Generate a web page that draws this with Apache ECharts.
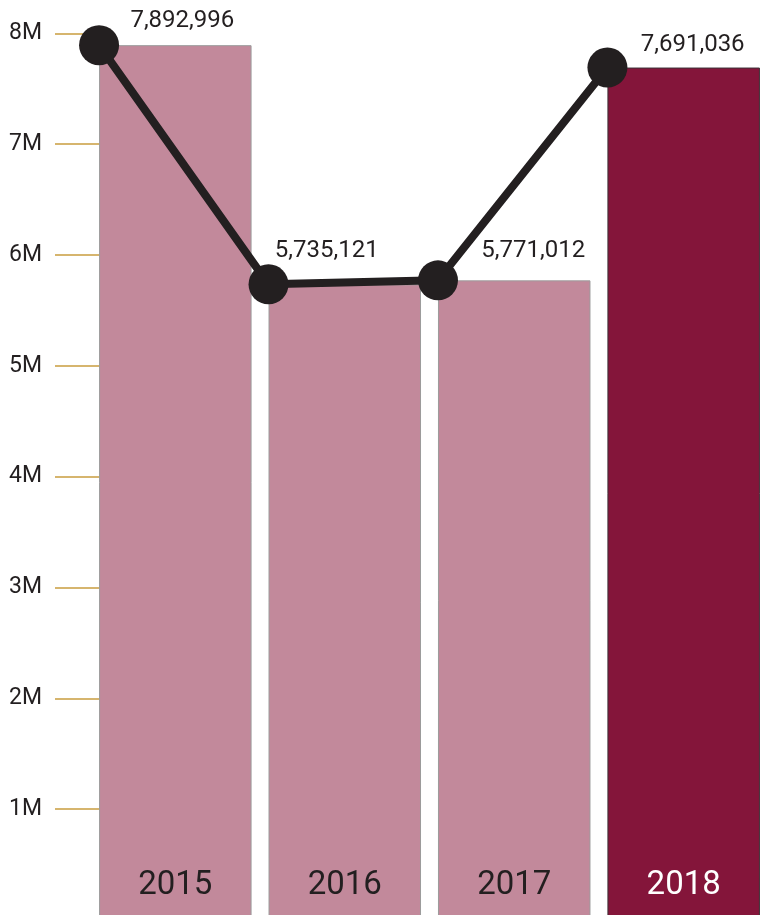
<!DOCTYPE html>
<html><head><meta charset="utf-8">
<script src="https://cdn.jsdelivr.net/npm/echarts@6/dist/echarts.min.js"></script>
<style>html,body{margin:0;padding:0;background:#fff;overflow:hidden}#c{width:781px;height:920px}</style>
</head><body><div id="c"></div>
<script>
// data
const categories = ['2015', '2016', '2017', '2018'];
const visitors = [7892996, 5735121, 5771012, 7691036];
const yTicks = [0, 1000000, 2000000, 3000000, 4000000, 5000000, 6000000, 7000000, 8000000];

// styling / layout
const BAR_FRAC = 0.9;                 // bar width as fraction of category band
const pink = '#c2899b', dark = '#84153a', ink = '#231f20', gold = '#c89c3e';
const labelOffsets = [[7, -12], [-18, -21], [19, -17], [9, -11]];

const yMin = yTicks[0], yMax = yTicks[yTicks.length - 1], yStep = yTicks[1] - yTicks[0];

const chart = echarts.init(document.getElementById('c'), null, {renderer: 'canvas'});
chart.setOption({
  animation: false,
  textStyle: {fontFamily: 'Roboto'},
  grid: [
    {left: 90.6, right: 12.6, top: 33.3, bottom: 0, containLabel: false},
    {left: 100, right: 12.6, top: 33.3, bottom: 0, containLabel: false}
  ],
  xAxis: [{
    type: 'category', data: categories, gridIndex: 0,
    axisLine: {show: false}, axisTick: {show: false},
    axisLabel: {
      show: true, inside: true, margin: 18, fontSize: 33, fontFamily: 'Roboto',
      color: (v, i) => i === categories.length - 1 ? '#ffffff' : ink
    },
    z: 10
  }, {
    type: 'value', gridIndex: 0, min: -0.5, max: categories.length - 0.5, show: false, position: 'top'
  }, {
    type: 'value', gridIndex: 1, min: 0, max: 1, show: false
  }],
  yAxis: [{
    type: 'value', gridIndex: 0, min: yMin, max: yMax, interval: yStep, show: false
  }, {
    type: 'value', gridIndex: 1, min: yMin, max: yMax, interval: yStep,
    axisLine: {show: false},
    axisTick: {show: true, length: 45, lineStyle: {color: gold, width: 1.6}},
    splitLine: {show: false},
    axisLabel: {
      margin: 58, fontSize: 23, color: ink, fontFamily: 'Roboto',
      showMinLabel: false,
      formatter: v => v === 0 ? '' : (v / 1e6) + 'M'
    }
  }],
  series: [{
    type: 'bar', xAxisIndex: 0, yAxisIndex: 0, barWidth: (BAR_FRAC * 100) + '%',
    data: visitors.map((v, i) => ({
      value: v,
      itemStyle: i === visitors.length - 1
        ? {color: dark, borderColor: '#3b3036', borderWidth: 1}
        : {color: pink, borderColor: '#9c9c9c', borderWidth: 1},
      label: {offset: labelOffsets[i]}
    })),
    label: {
      show: true, position: 'top', distance: 0, fontSize: 24, color: ink,
      fontFamily: 'Roboto',
      formatter: p => p.value.toLocaleString('en-US')
    },
    z: 1
  }, {
    type: 'line', xAxisIndex: 1, yAxisIndex: 0,
    data: visitors.map((v, i) => [i - BAR_FRAC / 2, v]),
    symbol: 'circle', symbolSize: 40,
    lineStyle: {color: ink, width: 8},
    itemStyle: {color: ink},
    z: 3
  }]
});
</script></body></html>
